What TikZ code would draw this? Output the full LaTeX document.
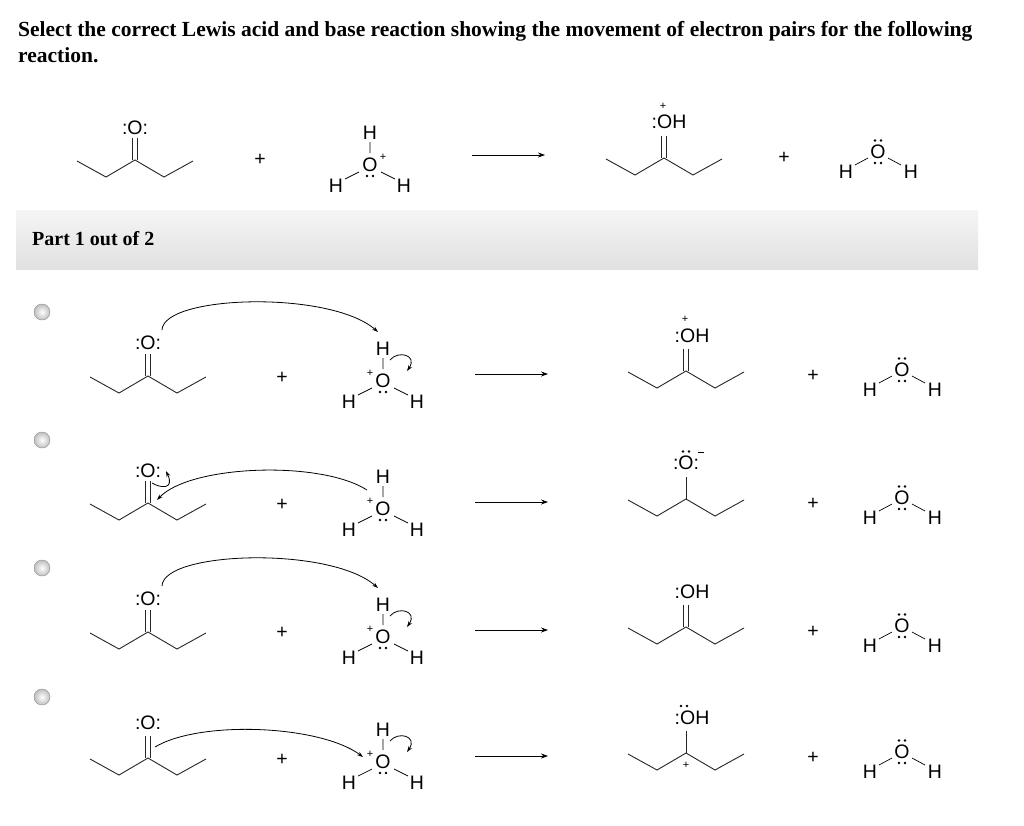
\documentclass[tikz,border=0pt]{standalone}
\usepackage{fontspec}
\setmainfont{Liberation Serif}
\newfontfamily\chemf{Liberation Sans}
\usetikzlibrary{arrows.meta,shadings}
\tikzset{
 bond/.style={line width=0.9pt,black!85},
 chem/.style={font=\chemf\fontsize{19.5}{21}\selectfont,inner sep=0pt},
 small/.style={font=\chemf\fontsize{11}{12}\selectfont,inner sep=0pt},
 rxn/.style={line width=0.8pt,-{Stealth[length=7pt,width=5pt]}},
 curly/.style={line width=0.8pt,-{Stealth[length=6pt,width=4pt]}},
 radio/.style={circle,minimum size=16pt,inner sep=0pt,draw=black!45,inner color=white,outer color=black!25},
 dot/.style={circle,fill=black,inner sep=0pt,minimum size=2.6pt}
}
\newcommand\chain[2]{\draw[bond] (#1-58,#2+1) -- (#1-29,#2+17) -- (#1,#2) -- (#1+29,#2+17) -- (#1+58,#2+1);}
\newcommand\dbl[2]{\draw[bond] (#1-2.2,#2) -- (#1-2.2,#2-22) (#1+2.2,#2) -- (#1+2.2,#2-22);}
\newcommand\sgl[2]{\draw[bond] (#1,#2) -- (#1,#2-22);}
\newcommand\hydro[4]{% x y name plusx
 \node[chem] (#3) at (#1,#2) {O};
 \node[chem] (#3t) at (#1,#2-32) {H};
 \node[chem] (#3l) at (#1-34,#2+21) {H};
 \node[chem] (#3r) at (#1+34,#2+21) {H};
 \draw[line width=0.7pt] (#1,#2-23) -- (#1,#2-12) (#1-25,#2+14) -- (#1-11,#2+7) (#1+11,#2+7) -- (#1+25,#2+14);
 \node[dot] at (#1-3,#2+11) {}; \node[dot] at (#1+3,#2+11) {};
 \node[small] at (#1+#4,#2-8) {+};}
\newcommand\water[3]{%
 \node[chem] (#3) at (#1,#2) {O};
 \node[chem] (#3l) at (#1-32,#2+20) {H};
 \node[chem] (#3r) at (#1+33,#2+20) {H};
 \draw[line width=0.7pt] (#1-23,#2+13) -- (#1-10,#2+6) (#1+10,#2+6) -- (#1+23,#2+13);
 \node[dot] at (#1-3,#2-11.5) {}; \node[dot] at (#1+3,#2-11.5) {};
 \node[dot] at (#1-3,#2+11) {}; \node[dot] at (#1+3,#2+11) {};}
\begin{document}
\begin{tikzpicture}[x=1pt,y=-1pt]
\fill[white] (0,0) rectangle (1024,825);
\useasboundingbox (0,0) rectangle (1024,825);
\node[anchor=base west,inner sep=0pt,font=\bfseries\fontsize{21.5}{24}\selectfont] (t1) at (18,36) {Select the correct Lewis acid and base reaction showing the movement of electron pairs for the following};
\node[anchor=base west,inner sep=0pt,font=\bfseries\fontsize{21.5}{24}\selectfont] (t2) at (18,62) {reaction.};
% top row
\chain{135}{160}\dbl{135}{160}
\node[chem] (k0) at (135,128) {:O:};
\node[chem] (p0a) at (260,160) {+};
\hydro{370}{165}{h0}{13}
\draw[rxn] (472,155) -- (545,155);
\chain{664}{158}\dbl{664}{158}
\node[chem] (r0) at (669,122) {:OH};
\node[small] at (663,106) {+};
\node[chem] (p0b) at (784,158) {+};
\water{878}{152}{w0}
% band
\shade[top color=black!4,bottom color=black!12] (16,210) rectangle (978,269);
\node[anchor=base west,inner sep=0pt,font=\bfseries\fontsize{20}{22}\selectfont] (part) at (32,245) {Part 1 out of 2};
% radios
\foreach \yy/\n in {312/a,440/b,568/c,697/d} \node[radio] (rb\n) at (42,\yy) {};
% row 1
\chain{148}{376}\dbl{148}{376}
\node[chem] (k1) at (148,343) {:O:};
\node[chem] (p1a) at (282,378) {+};
\hydro{383}{381}{h1}{-13}
\draw[rxn] (475,374) -- (548,374);
\chain{686}{371}\dbl{686}{371}
\node[chem] (r1) at (692,336) {:OH};
\node[small] at (685,319) {+};
\node[chem] (p1b) at (813,376) {+};
\water{902}{370}{w1}
\draw[curly] (162,330) .. controls (163,295) and (330,290) .. (378,332);
\draw[curly] (390,360) .. controls (398,350) and (418,355) .. (407,371);
% row 2
\chain{148}{503}\dbl{148}{503}
\node[chem] (k2) at (148,471) {:O:};
\node[chem] (p2a) at (282,505) {+};
\hydro{383}{509}{h2}{-13}
\draw[rxn] (475,502) -- (548,502);
\chain{686}{499}\sgl{686}{499}
\node[chem] (r2) at (686,463) {:O:};
\node[dot] at (683,451.5) {}; \node[dot] at (689,451.5) {};
\draw[line width=0.7pt] (698,452) -- (704,452);
\node[chem] (p2b) at (813,504) {+};
\water{902}{498}{w2}
\draw[curly] (367,490) .. controls (320,460) and (190,465) .. (157,500);
\draw[curly] (152,483) .. controls (160,488) and (175,490) .. (166,471);
% row 3
\chain{148}{632}\dbl{148}{632}
\node[chem] (k3) at (148,599) {:O:};
\node[chem] (p3a) at (282,633) {+};
\hydro{383}{637}{h3}{-13}
\draw[rxn] (475,630) -- (548,630);
\chain{686}{627}\dbl{686}{627}
\node[chem] (r3) at (692,592) {:OH};
\node[chem] (p3b) at (813,632) {+};
\water{902}{626}{w3}
\draw[curly] (162,586) .. controls (163,551) and (330,546) .. (378,588);
\draw[curly] (390,616) .. controls (398,606) and (418,611) .. (407,627);
% row 4
\chain{148}{758}\dbl{148}{758}
\node[chem] (k4) at (148,723) {:O:};
\node[chem] (p4a) at (282,760) {+};
\hydro{383}{762}{h4}{-13}
\draw[rxn] (475,756) -- (548,756);
\chain{686}{753}\sgl{686}{753}
\node[chem] (r4) at (692,718) {:OH};
\node[dot] at (681,706) {}; \node[dot] at (687,706) {};
\node[small] at (686,765) {+};
\node[chem] (p4b) at (813,758) {+};
\water{902}{752}{w4}
\draw[curly] (155,747) .. controls (200,720) and (320,725) .. (363,757);
\draw[curly] (390,741) .. controls (398,731) and (418,736) .. (407,752);
\end{tikzpicture}
\end{document}
